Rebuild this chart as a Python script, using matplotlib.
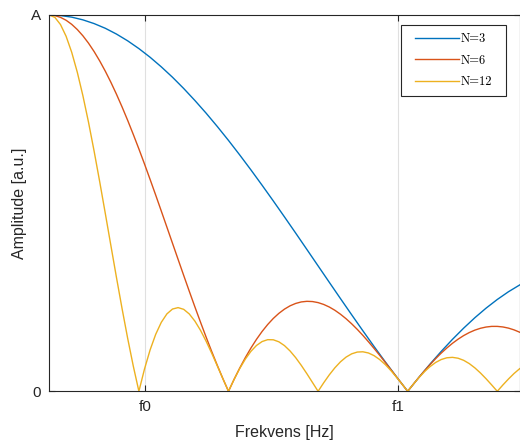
import matplotlib
matplotlib.use("Agg")
import matplotlib.pyplot as plt
from matplotlib.patches import Rectangle

# x positions (normalised frequency units) of the sampled values
x_fine = [0.0, 0.0625, 0.125, 0.1875, 0.25, 0.3125, 0.375, 0.4375, 0.5, 0.5625,
          0.625, 0.6875, 0.75, 0.8125, 0.875, 0.9375, 1.0, 1.0625, 1.125, 1.1875,
          1.25, 1.3125, 1.375, 1.4375, 1.5, 1.5625, 1.625, 1.6875, 1.75, 1.8125,
          1.875, 1.9375, 2.0, 2.0625, 2.125, 2.1875, 2.25, 2.3125, 2.375, 2.4375,
          2.5, 2.5625, 2.625, 2.6875, 2.75, 2.8125, 2.875, 2.9375, 3.0, 3.0625,
          3.125, 3.1875, 3.25, 3.3125, 3.375, 3.4375, 3.5, 3.5625, 3.625, 3.6875,
          3.75, 3.8125, 3.875, 3.9375, 4.0, 4.0625, 4.125, 4.1875, 4.25, 4.3125,
          4.375, 4.4375, 4.5, 4.5625, 4.625, 4.6875, 4.75, 4.8125, 4.875, 4.9375,
          5.0, 5.0625, 5.125, 5.1875, 5.25]

x_coarse = [0.0, 0.125, 0.25, 0.375, 0.5, 0.625, 0.75, 0.875, 1.0, 1.125, 1.25, 1.375,
            1.5, 1.625, 1.75, 1.875, 2.0, 2.125, 2.25, 2.375, 2.5, 2.625, 2.75, 2.875,
            3.0, 3.125, 3.25, 3.375, 3.5, 3.625, 3.75, 3.875, 4.0, 4.125, 4.25, 4.375,
            4.5, 4.625, 4.75, 4.875, 5.0, 5.125, 5.25]

n3 = [1.0, 0.9986, 0.9943, 0.9871, 0.9772, 0.9647, 0.9493, 0.9313, 0.9107, 0.8877,
      0.8622, 0.8346, 0.8047, 0.7728, 0.7392, 0.7037, 0.6667, 0.6282, 0.5885, 0.5476,
      0.5059, 0.4634, 0.4204, 0.3769, 0.3333, 0.2897, 0.2463, 0.2033, 0.1608, 0.1190,
      0.0782, 0.0385, 0.0, 0.0370, 0.0725, 0.1062, 0.1381, 0.1679, 0.1956, 0.2210,
      0.2440, 0.2646, 0.2826]

n6 = [1.0, 0.9984, 0.9937, 0.9860, 0.9752, 0.9614, 0.9447, 0.9252, 0.9029, 0.8780,
      0.8507, 0.8211, 0.7893, 0.7555, 0.7199, 0.6826, 0.6440, 0.6041, 0.5631, 0.5214,
      0.4790, 0.4363, 0.3934, 0.3506, 0.3080, 0.2658, 0.2243, 0.1838, 0.1442, 0.1059,
      0.0690, 0.0336, 0.0, 0.0318, 0.0616, 0.0893, 0.1148, 0.1381, 0.1590, 0.1775,
      0.1936, 0.2072, 0.2184, 0.2272, 0.2335, 0.2375, 0.2391, 0.2385, 0.2357, 0.2308,
      0.2240, 0.2153, 0.2048, 0.1928, 0.1793, 0.1645, 0.1486, 0.1316, 0.1139, 0.0956,
      0.0767, 0.0576, 0.0383, 0.0191, 0.0, 0.0187, 0.0369, 0.0544, 0.0711, 0.0869,
      0.1017, 0.1152, 0.1276, 0.1385, 0.1481, 0.1561, 0.1626, 0.1675, 0.1708, 0.1725,
      0.1725, 0.1710, 0.1679, 0.1632, 0.1570]

n12 = [1.0, 0.9936, 0.9746, 0.9435, 0.9010, 0.8479, 0.7855, 0.7152, 0.6384, 0.5570,
       0.4727, 0.3871, 0.3020, 0.2193, 0.1404, 0.0669, 0.0, 0.0592, 0.1099, 0.1514,
       0.1833, 0.2057, 0.2186, 0.2224, 0.2178, 0.2055, 0.1865, 0.1621, 0.1332, 0.1013,
       0.0677, 0.0335, 0.0, 0.0316, 0.0604, 0.0854, 0.1061, 0.1218, 0.1322, 0.1372,
       0.1369, 0.1315, 0.1214, 0.1071, 0.0894, 0.0689, 0.0467, 0.0234, 0.0, 0.0226,
       0.0437, 0.0625, 0.0784, 0.0909, 0.0996, 0.1043, 0.1050, 0.1018, 0.0947, 0.0843,
       0.0709, 0.0551, 0.0376, 0.0190, 0.0, 0.0186, 0.0362, 0.0521, 0.0657, 0.0767,
       0.0845, 0.0891, 0.0902, 0.0879, 0.0823, 0.0736, 0.0622, 0.0486, 0.0333, 0.0169,
       0.0, 0.0168, 0.0327, 0.0474, 0.0601]

series_labels = ["N=3", "N=6", "N=12"]
xtick_pos = [1.068, 3.895]
xtick_labels = ["f0", "f1"]
ytick_pos = [0, 1]
ytick_labels = ["0", "A"]

colors = ["#0072BD", "#D95319", "#EDB120"]

plt.rcParams["font.family"] = ["Liberation Sans", "DejaVu Sans"]

W, H = 520, 441
fig = plt.figure(figsize=(5.2, 4.41), dpi=100)
ax = fig.add_axes([49.3 / W, (H - 391.3) / H, (519.5 - 49.3) / W, (391.3 - 15) / H])

for xs, ys, lab, c in zip([x_coarse, x_fine, x_fine], [n3, n6, n12], series_labels, colors):
    ax.plot(xs, ys, color=c, lw=1.0, label=lab)

ax.set_xlim(0, 5.248)
ax.set_ylim(0, 1)
ax.set_xticks(xtick_pos)
ax.set_xticklabels(xtick_labels)
ax.set_yticks(ytick_pos)
ax.set_yticklabels(ytick_labels)
ax.grid(axis="x", color="#e0e0e0", lw=0.8)
ax.set_axisbelow(True)

axc = "#262626"
for s in ax.spines.values():
    s.set_color(axc)
    s.set_linewidth(0.8)
ax.tick_params(direction="in", length=4, width=0.8, colors=axc, labelsize=11,
               top=True, right=True, pad=6)
for t in ax.get_xticklabels() + ax.get_yticklabels():
    t.set_color(axc)

ax.set_xlabel("Frekvens [Hz]", fontsize=11.5, color=axc, labelpad=8)
ax.set_ylabel("Amplitude [a.u.]", fontsize=11.5, color=axc, labelpad=3)

# legend box (drawn inside the axes, below the legend entries)
box = Rectangle((400.7 / W, (H - 96) / H), 105 / W, 71 / H,
                transform=fig.transFigure, facecolor="white",
                edgecolor=axc, lw=0.8, zorder=4, clip_on=False)
ax.add_patch(box)

leg = ax.legend(loc="center left", bbox_to_anchor=(415 / W, (H - 60.7) / H),
                bbox_transform=fig.transFigure, borderaxespad=0, borderpad=0,
                prop={"family": "cmr10", "size": 9},
                handlelength=3.5, handletextpad=0.15, labelspacing=0.75,
                frameon=False)
leg.set_zorder(6)
for line in leg.get_lines():
    line.set_linewidth(1.0)

fig.savefig("out.png", dpi=100)
